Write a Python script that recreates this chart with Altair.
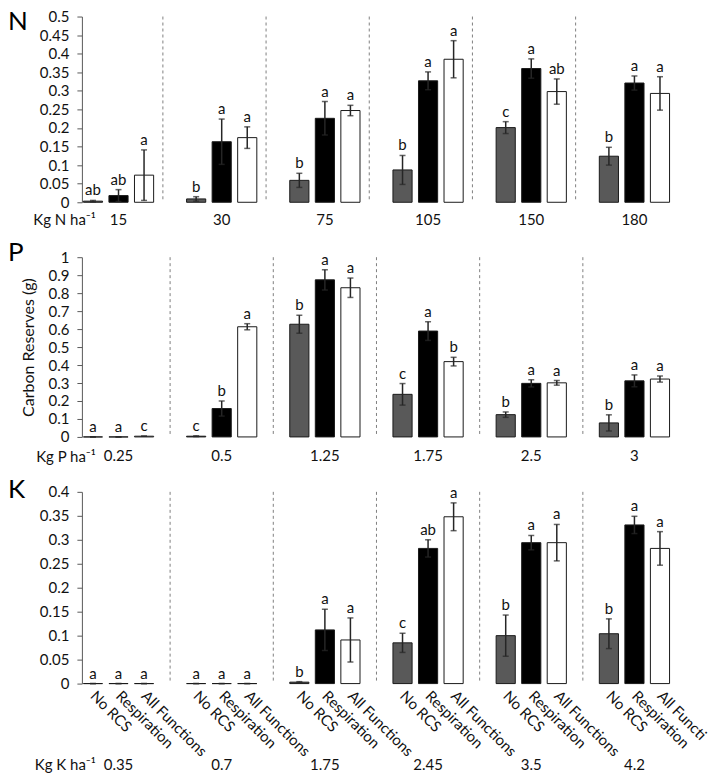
import altair as alt
import pandas as pd

FONT = "Lato"
treatments = ["No RCS", "Respiration", "All Functions"]
bar_colors = ["#595959", "#000000", "#ffffff"]

# ---------------- N panel ----------------
n_levels = ["15", "30", "75", "105", "150", "180"]
n_mean_norcs = [0.003, 0.009, 0.059, 0.087, 0.201, 0.124]
n_err_norcs = [0.002, 0.006, 0.019, 0.039, 0.016, 0.024]
n_mean_resp = [0.018, 0.163, 0.226, 0.327, 0.360, 0.321]
n_err_resp = [0.016, 0.061, 0.045, 0.024, 0.026, 0.019]
n_mean_all = [0.073, 0.174, 0.247, 0.385, 0.298, 0.293]
n_err_all = [0.068, 0.029, 0.014, 0.050, 0.034, 0.045]
n_let_norcs = ["ab", "b", "b", "b", "c", "b"]
n_let_resp = ["ab", "a", "a", "a", "a", "a"]
n_let_all = ["a", "a", "a", "a", "ab", "a"]
n_ticks = [0, 0.05, 0.1, 0.15, 0.2, 0.25, 0.3, 0.35, 0.4, 0.45, 0.5]

# ---------------- P panel ----------------
p_levels = ["0.25", "0.5", "1.25", "1.75", "2.5", "3"]
p_mean_norcs = [0.0, 0.004, 0.627, 0.237, 0.124, 0.078]
p_err_norcs = [0.0, 0.002, 0.050, 0.060, 0.015, 0.045]
p_mean_resp = [0.0, 0.158, 0.874, 0.589, 0.298, 0.312]
p_err_resp = [0.0, 0.042, 0.056, 0.052, 0.020, 0.033]
p_mean_all = [0.004, 0.613, 0.830, 0.419, 0.301, 0.322]
p_err_all = [0.0, 0.017, 0.054, 0.024, 0.013, 0.017]
p_let_norcs = ["a", "c", "b", "c", "b", "b"]
p_let_resp = ["a", "b", "a", "a", "a", "a"]
p_let_all = ["c", "a", "a", "b", "a", "a"]
p_ticks = [0, 0.1, 0.2, 0.3, 0.4, 0.5, 0.6, 0.7, 0.8, 0.9, 1.0]

# ---------------- K panel ----------------
k_levels = ["0.35", "0.7", "1.75", "2.45", "3.5", "4.2"]
k_mean_norcs = [0.0, 0.0, 0.003, 0.085, 0.100, 0.104]
k_err_norcs = [0.0, 0.0, 0.001, 0.020, 0.043, 0.031]
k_mean_resp = [0.0, 0.0, 0.112, 0.282, 0.294, 0.331]
k_err_resp = [0.0, 0.0, 0.043, 0.018, 0.015, 0.018]
k_mean_all = [0.0, 0.0, 0.091, 0.348, 0.294, 0.282]
k_err_all = [0.0, 0.0, 0.046, 0.029, 0.038, 0.035]
k_let_norcs = ["a", "a", "b", "c", "b", "b"]
k_let_resp = ["a", "a", "a", "ab", "a", "a"]
k_let_all = ["a", "a", "a", "a", "a", "a"]
k_ticks = [0, 0.05, 0.1, 0.15, 0.2, 0.25, 0.3, 0.35, 0.4]

W = 620


def make_df(levels, means, errs, letters):
    rows = []
    for ti, t in enumerate(treatments):
        for gi, g in enumerate(levels):
            rows.append({"group": g, "treatment": t, "mean": means[ti][gi],
                         "err": errs[ti][gi], "letter": letters[ti][gi]})
    return pd.DataFrame(rows)


def panel(df, levels, height, ticks, fmt, prefix, letter, letter_y, label_off,
          ytitle=None, rotated=False, sep_band=1.0):
    xscale = alt.Scale(domain=levels, paddingInner=0, paddingOuter=0)
    xaxis = alt.Axis(title=None, labelAngle=0, ticks=False, tickSize=0, domain=False,
                     labelPadding=label_off - 8, labelFont=FONT, labelFontSize=15,
                     labelColor="#111111", grid=False)
    x = alt.X("group:N", sort=levels, scale=xscale, axis=xaxis)
    xo = alt.XOffset("treatment:N", sort=treatments,
                     scale=alt.Scale(domain=treatments, paddingInner=0.25, paddingOuter=0.645))
    yscale = alt.Scale(domain=[ticks[0], ticks[-1]], nice=False, zero=True)
    yaxis = alt.Axis(title=ytitle, values=ticks, format=fmt, offset=-15, grid=False,
                     tickSize=5, labelPadding=8, domainColor="#595959", tickColor="#595959",
                     labelFont=FONT, labelFontSize=15, labelColor="#111111",
                     titleFont=FONT, titleFontSize=16, titleFontWeight="normal",
                     titleColor="#111111", titlePadding=12)

    base = alt.Chart(df).transform_calculate(
        lo="datum.mean - datum.err", hi="datum.mean + datum.err")

    bars = base.mark_bar(stroke="#1a1a1a", strokeWidth=1).encode(
        x=x, xOffset=xo,
        y=alt.Y("mean:Q", scale=yscale, axis=yaxis),
        color=alt.Color("treatment:N", scale=alt.Scale(domain=treatments, range=bar_colors),
                        legend=None))
    ebar = base.mark_rule(color="#262626", strokeWidth=1.5).encode(
        x=x, xOffset=xo,
        y=alt.Y("lo:Q", scale=yscale, axis=yaxis), y2="hi:Q")
    cap_hi = base.mark_tick(color="#262626", size=6, thickness=1.5).encode(
        x=x, xOffset=xo, y=alt.Y("hi:Q", scale=yscale, axis=yaxis))
    cap_lo = base.mark_tick(color="#262626", size=6, thickness=1.5).encode(
        x=x, xOffset=xo, y=alt.Y("lo:Q", scale=yscale, axis=yaxis))
    lets = base.mark_text(baseline="bottom", dy=-2, font=FONT, fontSize=15,
                          color="#111111").encode(
        x=x, xOffset=xo, y=alt.Y("hi:Q", scale=yscale, axis=yaxis), text="letter:N")

    sep = alt.Chart(pd.DataFrame({"group": levels[:-1]})).mark_rule(
        strokeDash=[3, 3], color="#808080", strokeWidth=1).encode(
        x=alt.X("group:N", sort=levels, scale=xscale, axis=xaxis, bandPosition=sep_band),
        y=alt.value(0), y2=alt.value(height))

    pref = alt.Chart(pd.DataFrame({"t": [prefix]})).mark_text(
        align="right", baseline="middle", font=FONT, fontSize=15, color="#111111").encode(
        x=alt.value(29), y=alt.value(height + label_off), text="t:N")
    plet = alt.Chart(pd.DataFrame({"t": [letter]})).mark_text(
        align="left", baseline="middle", font=FONT, fontSize=26, color="#000000").encode(
        x=alt.value(-59), y=alt.value(letter_y), text="t:N")

    layers = [sep, bars, ebar, cap_hi, cap_lo, lets, pref, plet]
    if rotated:
        is_cut = (alt.datum.group == levels[-1]) & (alt.datum.treatment == treatments[-1])
        rot_main = base.transform_filter(~is_cut).mark_text(
            angle=45, align="left", baseline="middle", font=FONT,
            fontSize=15, color="#111111").encode(
            x=x, xOffset=xo, y=alt.value(height + 10), text="treatment:N")
        # the right-most label runs off the page edge in the original
        rot_last = base.transform_filter(is_cut).mark_text(
            angle=45, align="left", baseline="middle", font=FONT,
            fontSize=15, color="#111111", limit=66, ellipsis="\u200b").encode(
            x=x, xOffset=xo, y=alt.value(height + 10), text="treatment:N")
        layers += [rot_main, rot_last]
    return alt.layer(*layers).properties(width=W, height=height)


n_df = make_df(n_levels, [n_mean_norcs, n_mean_resp, n_mean_all],
               [n_err_norcs, n_err_resp, n_err_all], [n_let_norcs, n_let_resp, n_let_all])
p_df = make_df(p_levels, [p_mean_norcs, p_mean_resp, p_mean_all],
               [p_err_norcs, p_err_resp, p_err_all], [p_let_norcs, p_let_resp, p_let_all])
k_df = make_df(k_levels, [k_mean_norcs, k_mean_resp, k_mean_all],
               [k_err_norcs, k_err_resp, k_err_all], [k_let_norcs, k_let_resp, k_let_all])

n_chart = panel(n_df, n_levels, 186, n_ticks, ".2~f", "Kg N ha⁻¹", "N", 5, 18, sep_band=0.93)
p_chart = panel(p_df, p_levels, 180, p_ticks, ".1~f", "Kg P ha⁻¹", "P", -4, 20,
                ytitle="Carbon Reserves (g)")
k_chart = panel(k_df, k_levels, 192, k_ticks, ".2~f", "Kg K ha⁻¹", "K", -2, 82, rotated=True)

chart = alt.vconcat(n_chart, p_chart, k_chart, spacing=55, bounds="flush").properties(
    padding=0
).configure_view(stroke=None)

chart.save("out.html", embed_options={"renderer": "svg", "actions": False})
